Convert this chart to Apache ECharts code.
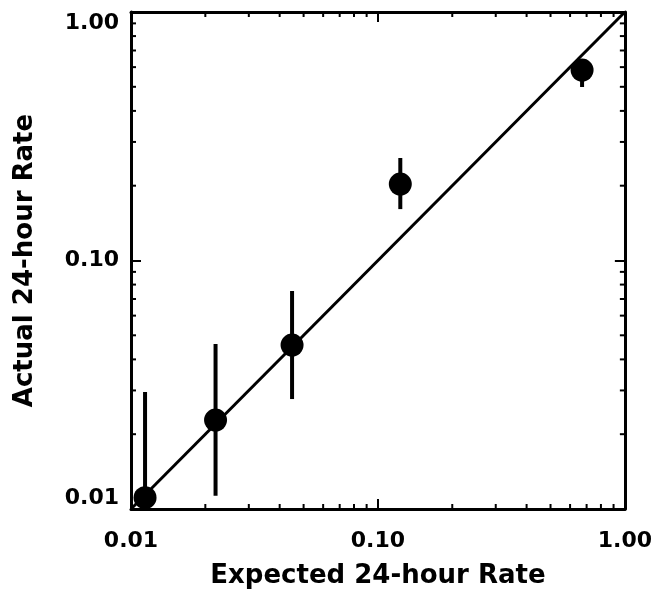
<!DOCTYPE html>
<html>
<head>
<meta charset="utf-8">
<title>Expected vs Actual 24-hour Rate</title>
<script src="https://cdn.jsdelivr.net/npm/echarts@6/dist/echarts.min.js"></script>
<style>
  html, body { margin: 0; padding: 0; background: #fff; }
  #chart { width: 655px; height: 596px; }
</style>
</head>
<body>
<div id="chart"></div>
<script>
// values
var expected = [0.0114, 0.0220, 0.0449, 0.1232, 0.671]
var actual = [0.0111, 0.0228, 0.0457, 0.203, 0.584]
var errLow = [0.005, 0.0113, 0.0277, 0.161, 0.499]
var errHigh = [0.0296, 0.0461, 0.0754, 0.2585, 0.63]
var diagonal = [0.01, 1]
var minorTicks = [0.02, 0.03, 0.04, 0.05, 0.06, 0.07, 0.08, 0.09,
  0.2, 0.3, 0.4, 0.5, 0.6, 0.7, 0.8, 0.9]
var axisMin = 0.01
var axisMax = 1

var font = 'DejaVu Sans'

function fmt(v) {
  return Number(v).toFixed(2)
}

var chart = echarts.init(document.getElementById('chart'))

var frameLine = { show: true, lineStyle: { color: '#000', width: 3 } }
var majorTick = { show: true, inside: true, length: 10, lineStyle: { color: '#000', width: 2 } }
var tickLabel = {
  color: '#000',
  fontFamily: font,
  fontWeight: 'bold',
  fontSize: 22,
  formatter: fmt
}
var nameStyle = {
  color: '#000',
  fontFamily: font,
  fontWeight: 'bold',
  fontSize: 26
}

chart.setOption({
  backgroundColor: '#fff',
  animation: false,
  grid: {
    left: 131,
    top: 12,
    right: 27,
    bottom: 87
  },
  xAxis: [{
    type: 'log',
    logBase: 10,
    min: axisMin,
    max: axisMax,
    position: 'bottom',
    name: 'Expected 24-hour Rate',
    nameLocation: 'middle',
    nameGap: 54,
    nameTextStyle: nameStyle,
    axisLine: frameLine,
    axisTick: majorTick,
    axisLabel: Object.assign({ margin: 21 }, tickLabel),
    splitLine: { show: false }
  }, {
    type: 'log',
    logBase: 10,
    min: axisMin,
    max: axisMax,
    position: 'top',
    axisLine: frameLine,
    axisTick: majorTick,
    axisLabel: { show: false },
    splitLine: { show: false }
  }],
  yAxis: [{
    type: 'log',
    logBase: 10,
    min: axisMin,
    max: axisMax,
    position: 'left',
    name: 'Actual 24-hour Rate',
    nameLocation: 'middle',
    nameGap: 93,
    nameTextStyle: nameStyle,
    axisLine: frameLine,
    axisTick: majorTick,
    axisLabel: Object.assign({
      margin: 12,
      verticalAlignMinLabel: 'bottom',
      verticalAlignMaxLabel: 'top'
    }, tickLabel),
    splitLine: { show: false }
  }, {
    type: 'log',
    logBase: 10,
    min: axisMin,
    max: axisMax,
    position: 'right',
    axisLine: frameLine,
    axisTick: majorTick,
    axisLabel: { show: false },
    splitLine: { show: false }
  }],
  series: [{
    // one-to-one line
    type: 'line',
    data: diagonal.map(function(v) { return [v, v] }),
    symbol: 'none',
    lineStyle: { color: '#000', width: 3 },
    z: 2
  }, {
    // minor ticks on all four sides
    type: 'custom',
    data: minorTicks.map(function(v) { return [v, v] }),
    clip: false,
    silent: true,
    renderItem: function(params, api) {
      var v = api.value(0)
      var b = api.coord([v, axisMin])
      var t = api.coord([v, axisMax])
      var l = api.coord([axisMin, v])
      var r = api.coord([axisMax, v])
      var style = { stroke: '#000', lineWidth: 2 }
      return {
        type: 'group',
        children: [
          { type: 'line', shape: { x1: b[0], y1: b[1], x2: b[0], y2: b[1] - 5 }, style: style },
          { type: 'line', shape: { x1: t[0], y1: t[1], x2: t[0], y2: t[1] + 5 }, style: style },
          { type: 'line', shape: { x1: l[0], y1: l[1], x2: l[0] + 5, y2: l[1] }, style: style },
          { type: 'line', shape: { x1: r[0], y1: r[1], x2: r[0] - 5, y2: r[1] }, style: style }
        ]
      }
    },
    z: 3
  }, {
    // error bars
    type: 'custom',
    data: expected.map(function(x, i) { return [x, errLow[i], errHigh[i]] }),
    encode: { x: 0, y: [1, 2] },
    clip: true,
    renderItem: function(params, api) {
      var lo = api.coord([api.value(0), api.value(1)])
      var hi = api.coord([api.value(0), api.value(2)])
      return {
        type: 'line',
        shape: { x1: lo[0], y1: lo[1], x2: hi[0], y2: hi[1] },
        style: { stroke: '#000', lineWidth: 4 }
      }
    },
    z: 4
  }, {
    type: 'scatter',
    data: expected.map(function(x, i) { return [x, actual[i]] }),
    symbol: 'circle',
    symbolSize: 23,
    itemStyle: { color: '#000', opacity: 1 },
    z: 5
  }]
})
</script>
</body>
</html>
